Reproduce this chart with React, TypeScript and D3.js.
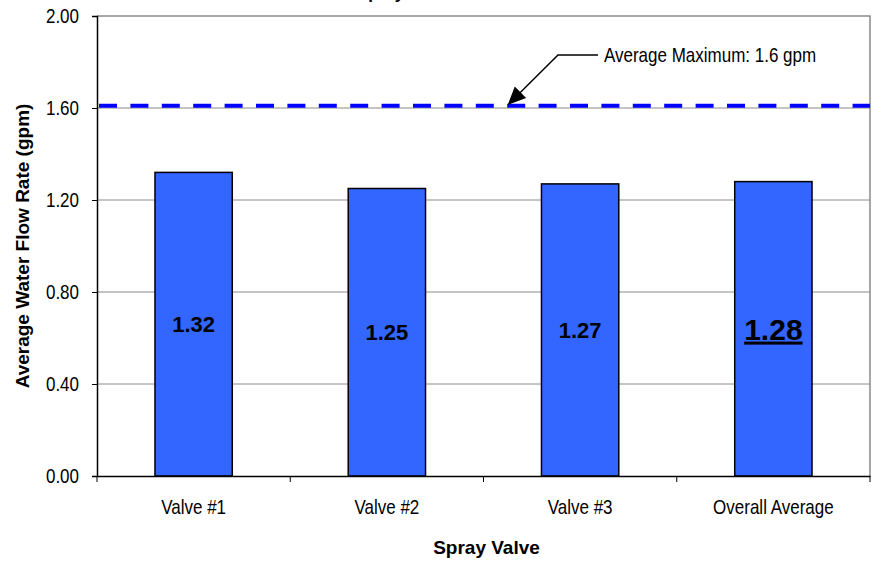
import { useEffect, useRef } from 'react';
import * as d3 from 'd3';

// chart values
const valves = ['Valve #1', 'Valve #2', 'Valve #3', 'Overall Average'];
const flowRates = [1.32, 1.25, 1.27, 1.28];
const yTicks = [0, 0.4, 0.8, 1.2, 1.6, 2.0];
const averageMaximum = 1.61;
const annotationText = 'Average Maximum: 1.6 gpm';
const chartTitle = 'Spray Valve Water Flow Rates';
const xTitle = 'Spray Valve';
const yTitle = 'Average Water Flow Rate (gpm)';

const W = 881;
const H = 561;
const SANS = '"Liberation Sans", Arial, sans-serif';
// no narrow face installed, so squeeze the regular one
const NARROW_SCALE = 0.85;

export default function App() {
  const svgRef = useRef<SVGSVGElement>(null);

  useEffect(() => {
    if (!svgRef.current) return;
    const svg = d3.select(svgRef.current);
    svg.selectAll('*').remove();

    const margin = { top: 16, right: 11, bottom: 85, left: 97 };
    const innerWidth = W - margin.left - margin.right;
    const innerHeight = H - margin.top - margin.bottom;

    const x = d3.scaleBand<string>().domain(valves).range([0, innerWidth]).paddingInner(0.6).paddingOuter(0.3);
    const y = d3.scaleLinear().domain([0, 2]).range([innerHeight, 0]);

    // arrow marker
    svg.append('defs')
      .append('marker')
      .attr('id', 'arrowhead')
      .attr('viewBox', '0 0 10 10')
      .attr('refX', 9)
      .attr('refY', 5)
      .attr('markerWidth', 18)
      .attr('markerHeight', 18)
      .attr('markerUnits', 'userSpaceOnUse')
      .attr('orient', 'auto')
      .append('path')
      .attr('d', 'M0,0.5 L10,5 L0,9.5 z')
      .attr('fill', '#000');

    // title, mostly cut off at the top
    svg.append('text')
      .attr('x', 357)
      .attr('y', -1.5)
      .attr('font-family', SANS)
      .attr('font-weight', 'bold')
      .attr('font-size', 17)
      .text(chartTitle);

    const g = svg.append('g').attr('transform', `translate(${margin.left},${margin.top})`);

    // gridlines
    g.append('g')
      .selectAll('line')
      .data(yTicks.filter((d) => d > 0 && d < 2))
      .join('line')
      .attr('x1', 0)
      .attr('x2', innerWidth)
      .attr('y1', (d) => y(d))
      .attr('y2', (d) => y(d))
      .attr('stroke', '#8a8a8a')
      .attr('stroke-width', 1);

    // top and right frame
    g.append('path')
      .attr('d', `M0,${y(2)} H${innerWidth} V${y(0)}`)
      .attr('fill', 'none')
      .attr('stroke', '#8a8a8a')
      .attr('stroke-width', 1.5);

    // bars
    g.append('g')
      .selectAll('rect')
      .data(flowRates)
      .join('rect')
      .attr('x', (_, i) => x(valves[i])!)
      .attr('y', (d) => y(d))
      .attr('width', x.bandwidth())
      .attr('height', (d) => y(0) - y(d))
      .attr('fill', '#3366ff')
      .attr('stroke', '#000')
      .attr('stroke-width', 1.5);

    // value labels
    g.append('g')
      .selectAll('text')
      .data(flowRates)
      .join('text')
      .attr('x', (_, i) => x(valves[i])! + x.bandwidth() / 2)
      .attr('y', (d) => y(d / 2))
      .attr('dy', '0.36em')
      .attr('text-anchor', 'middle')
      .attr('font-family', SANS)
      .attr('font-weight', 'bold')
      .attr('font-size', (_, i) => (i === valves.length - 1 ? 30 : 22))
      .attr('text-decoration', (_, i) => (i === valves.length - 1 ? 'underline' : 'none'))
      .text((d) => d.toFixed(2));

    // average maximum dashed line
    g.append('line')
      .attr('x1', 2)
      .attr('x2', innerWidth)
      .attr('y1', y(averageMaximum))
      .attr('y2', y(averageMaximum))
      .attr('stroke', '#0000ff')
      .attr('stroke-width', 4)
      .attr('stroke-dasharray', '18 13.4');

    // annotation
    svg.append('text')
      .attr('transform', `translate(604,55) scale(${NARROW_SCALE},1)`)
      .attr('dy', '0.35em')
      .attr('font-family', SANS)
      .attr('font-size', 20)
      .text(annotationText);

    svg.append('path')
      .attr('d', `M598,55 H558 L509,${margin.top + y(averageMaximum) - 2}`)
      .attr('fill', 'none')
      .attr('stroke', '#000')
      .attr('stroke-width', 1.5)
      .attr('marker-end', 'url(#arrowhead)');

    // y axis
    const yAxis = g.append('g')
      .call(d3.axisLeft(y).tickValues(yTicks).tickFormat(d3.format('.2f')).tickSize(5).tickPadding(13));
    yAxis.select('.domain').attr('stroke', '#000').attr('stroke-width', 1.5);
    yAxis.selectAll('.tick line').attr('stroke', '#000');
    yAxis.selectAll('text')
      .attr('x', -18 / NARROW_SCALE)
      .attr('transform', `scale(${NARROW_SCALE},1)`)
      .attr('font-family', SANS)
      .attr('font-size', 20)
      .attr('fill', '#000');

    // x axis
    const xAxis = g.append('g')
      .attr('transform', `translate(0,${innerHeight})`)
      .call(d3.axisBottom(x).tickSize(0).tickPadding(24));
    xAxis.select('.domain').attr('stroke', '#000').attr('stroke-width', 1.5);
    xAxis.selectAll('text')
      .attr('transform', `scale(${NARROW_SCALE},1)`)
      .attr('font-family', SANS)
      .attr('font-size', 20)
      .attr('fill', '#000');

    // category boundary ticks
    const step = x.step();
    g.append('g')
      .selectAll('line')
      .data(d3.range(valves.length + 1))
      .join('line')
      .attr('x1', (i) => i * step)
      .attr('x2', (i) => i * step)
      .attr('y1', innerHeight)
      .attr('y2', innerHeight + 6)
      .attr('stroke', '#000')
      .attr('stroke-width', 1);

    // axis titles
    svg.append('text')
      .attr('x', margin.left + innerWidth / 2 + 3)
      .attr('y', 554)
      .attr('text-anchor', 'middle')
      .attr('font-family', SANS)
      .attr('font-weight', 'bold')
      .attr('font-size', 19)
      .text(xTitle);

    svg.append('text')
      .attr('transform', `translate(29,${margin.top + innerHeight / 2}) rotate(-90)`)
      .attr('text-anchor', 'middle')
      .attr('font-family', SANS)
      .attr('font-weight', 'bold')
      .attr('font-size', 19)
      .text(yTitle);
  }, []);

  return (
    <svg
      ref={svgRef}
      width={W}
      height={H}
      style={{ position: 'absolute', left: 0, top: 0, background: '#fff' }}
    />
  );
}
